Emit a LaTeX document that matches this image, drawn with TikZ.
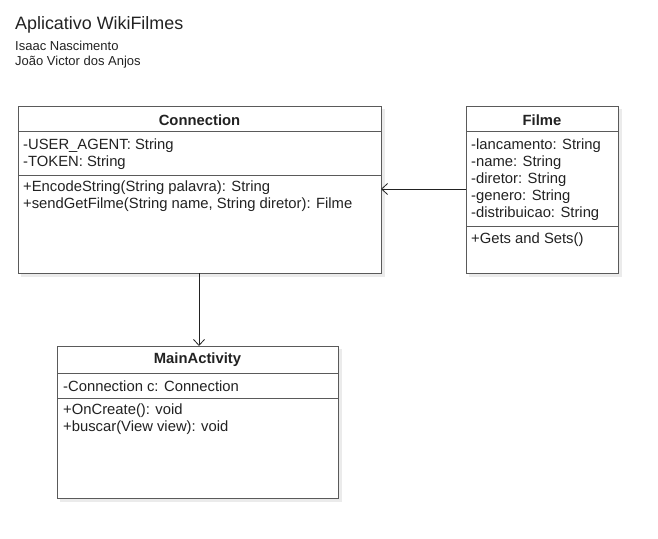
\documentclass[tikz,border=0pt]{standalone}
\usepackage{fontspec}
\setmainfont{Liberation Sans}
\usetikzlibrary{arrows.meta}
\definecolor{boxc}{HTML}{5A5A5A}
\definecolor{txtc}{HTML}{222222}
\definecolor{shc}{HTML}{EBEBEB}
\begin{document}
\begin{tikzpicture}[x=1pt,y=-1pt,
  box/.style={draw=boxc, line width=1pt, fill=white, inner sep=0pt, outer sep=0pt, anchor=north west},
  shadow/.style={fill=shc, draw=none},
  divider/.style={draw=boxc, line width=1pt},
  txt/.style={anchor=west, inner sep=0pt, yshift=-1.5pt, text=txtc, font=\fontsize{14.8}{17}\selectfont},
  ttl/.style={anchor=center, inner sep=0pt, yshift=-1pt, text=txtc, font=\fontsize{14.8}{17}\selectfont\bfseries},
  conn/.style={draw=txtc, line width=0.8pt, -{Straight Barb[length=6pt,width=11pt,line width=0.8pt]}}]
\useasboundingbox (0,0) rectangle (658,538);
% header
\node[anchor=west, inner sep=0pt, text=txtc, font=\fontsize{17.9}{20}\selectfont] (title) at (15,25) {Aplicativo WikiFilmes};
\node[anchor=west, inner sep=0pt, text=txtc, font=\fontsize{13}{15}\selectfont] (auth1) at (15,46) {Isaac Nascimento};
\node[anchor=west, inner sep=0pt, text=txtc, font=\fontsize{13}{15}\selectfont] (auth2) at (15,62) {João Victor dos Anjos};
% Connection
\fill[shadow] (21,109) rectangle (385,277);
\node[box, minimum width=363pt, minimum height=167pt] (connection) at (18,106) {};
\draw[divider] (18,131) -- (381,131);
\draw[divider] (18,175) -- (381,175);
\node[ttl] (connT) at (199.5,119) {Connection};
\node[txt] (c1) at (23,144) {-USER\_AGENT: String};
\node[txt] (c2) at (23,161) {-TOKEN: String};
\node[txt] (c3) at (23,186) {+EncodeString(String palavra): String};
\node[txt] (c4) at (23,203) {+sendGetFilme(String name, String diretor): Filme};
% Filme
\fill[shadow] (469,109) rectangle (622,277);
\node[box, minimum width=152pt, minimum height=167pt] (filme) at (466,106) {};
\draw[divider] (466,131) -- (618,131);
\draw[divider] (466,226) -- (618,226);
\node[ttl] (filmeT) at (542,119) {Filme};
\node[txt] (f1) at (471,144) {-lancamento: String};
\node[txt] (f2) at (471,161) {-name: String};
\node[txt] (f3) at (471,178) {-diretor: String};
\node[txt] (f4) at (471,195) {-genero: String};
\node[txt] (f5) at (471,212) {-distribuicao: String};
\node[txt] (f6) at (471,238) {+Gets and Sets()};
% MainActivity
\fill[shadow] (60,349) rectangle (342,502);
\node[box, minimum width=281pt, minimum height=152pt] (main) at (57,346) {};
\draw[divider] (57,373) -- (338,373);
\draw[divider] (57,398) -- (338,398);
\node[ttl] (mainT) at (197.5,359) {MainActivity};
\node[txt] (m1) at (63,385) {-Connection c: Connection};
\node[txt] (m2) at (63,409) {+OnCreate(): void};
\node[txt] (m3) at (63,426) {+buscar(View view): void};
% connectors
\draw[conn] (filme.west |- 0,189) -- (connection.east |- 0,189);
\draw[conn] (connection.south -| 199,0) -- (main.north -| 199,0);
\end{tikzpicture}
\end{document}
